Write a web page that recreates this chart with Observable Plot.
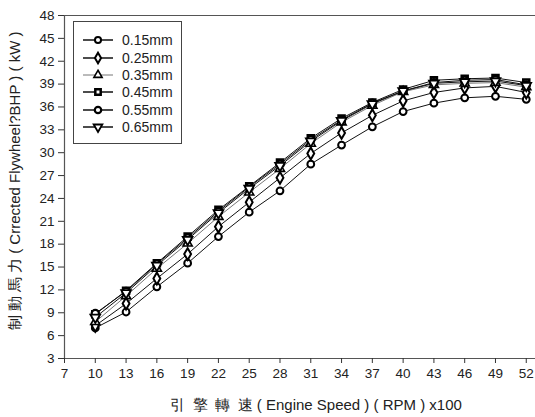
<!DOCTYPE html>
<html>
<head>
<meta charset="utf-8">
<script src="https://cdn.jsdelivr.net/npm/d3@7"></script>
<script src="https://cdn.jsdelivr.net/npm/@observablehq/plot@0.6"></script>
<style>
  body { margin: 0; background: white; }
  #wrap { position: relative; width: 535px; height: 417px; font-family: "Liberation Sans", Arial, sans-serif; }
  #legend { position: absolute; left: 73px; top: 21px; width: 109px; height: 123px; border: 1px solid #444; background: white; box-sizing: border-box; }
</style>
</head>
<body>
<div id="wrap"><div id="chart"></div><div id="legend"></div></div>
<script>
// ---- data ----
const rpm = [10, 13, 16, 19, 22, 25, 28, 31, 34, 37, 40, 43, 46, 49, 52];
const seriesNames = ["0.15mm", "0.25mm", "0.35mm", "0.45mm", "0.55mm", "0.65mm"];
const s015 = [7.0, 9.1, 12.4, 15.5, 19.0, 22.2, 25.0, 28.5, 31.0, 33.4, 35.4, 36.5, 37.2, 37.4, 37.0];
const s025 = [7.3, 10.2, 13.5, 16.7, 20.3, 23.5, 26.7, 29.9, 32.6, 34.9, 36.8, 37.9, 38.5, 38.7, 37.9];
const s035 = [7.8, 11.2, 14.8, 18.1, 21.6, 24.8, 27.9, 31.2, 34.0, 36.2, 38.0, 38.9, 39.1, 39.2, 38.6];
const s045 = [8.8, 11.9, 15.5, 19.0, 22.5, 25.6, 28.7, 31.9, 34.5, 36.6, 38.3, 39.5, 39.7, 39.8, 39.2];
const s055 = [8.9, 11.8, 15.4, 18.8, 22.3, 25.5, 28.5, 31.7, 34.3, 36.5, 38.1, 39.2, 39.5, 39.6, 38.9];
const s065 = [8.4, 11.6, 15.2, 18.6, 22.1, 25.3, 28.3, 31.5, 34.2, 36.4, 38.1, 39.1, 39.3, 39.4, 38.8];
const xTicks = [7, 10, 13, 16, 19, 22, 25, 28, 31, 34, 37, 40, 43, 46, 49, 52];
const yTicks = [3, 6, 9, 12, 15, 18, 21, 24, 27, 30, 33, 36, 39, 42, 45, 48];
const xLabel = "引\u2002擎\u2002轉\u2002速 ( Engine Speed ) ( RPM ) x100";
const yLabel = "制 動 馬 力 ( Crrected Flywheel?BHP ) ( kW )";

// ---- styles ----
const invTriangle = {
  draw(context, size) {
    const y = -Math.sqrt(size / (Math.sqrt(3) * 3));
    context.moveTo(0, -y * 2);
    context.lineTo(-Math.sqrt(3) * y, y);
    context.lineTo(Math.sqrt(3) * y, y);
    context.closePath();
  }
};
const styles = {
  "0.15mm": {symbol: "circle", r: 3.4, sw: 2, fill: "white", line: "#111"},
  "0.25mm": {symbol: "diamond", r: 3.6, sw: 2, fill: "white", line: "#111"},
  "0.35mm": {symbol: "triangle", r: 3.4, sw: 1.6, fill: "white", line: "#777"},
  "0.45mm": {symbol: "square", r: 3.4, sw: 2.5, fill: "white", line: "#111"},
  "0.55mm": {symbol: "circle", r: 3.6, sw: 2.2, fill: "white", line: "#111"},
  "0.65mm": {symbol: invTriangle, r: 3.6, sw: 1.8, fill: "white", line: "#111"}
};
const allSeries = [s015, s025, s035, s045, s055, s065];
const rows = [];
seriesNames.forEach((name, i) => rpm.forEach((x, j) => rows.push({series: name, x, y: allSeries[i][j]})));

const lineMarks = seriesNames.map(name => Plot.line(rows.filter(d => d.series === name), {x: "x", y: "y", stroke: styles[name].line, strokeWidth: 1}));
const dotMarks = seriesNames.map(name => Plot.dot(rows.filter(d => d.series === name), {
  x: "x", y: "y", symbol: styles[name].symbol, r: styles[name].r,
  stroke: "#000", strokeWidth: styles[name].sw, fill: styles[name].fill
}));

const chart = Plot.plot({
  width: 535,
  height: 417,
  marginLeft: 64,
  marginRight: 0,
  marginTop: 15,
  marginBottom: 59,
  x: {domain: [7, 52.9]},
  y: {domain: [3, 48]},
  style: {fontFamily: "'Liberation Sans', Arial, sans-serif", fontSize: "13.5px", color: "#222", background: "white"},
  marks: [
    Plot.ruleY([48], {stroke: "#555", strokeWidth: 1.2}),
    Plot.ruleX([7], {stroke: "#555", strokeWidth: 1.2}),
    Plot.ruleY([3], {stroke: "#555", strokeWidth: 1.2}),
    Plot.axisX({ticks: xTicks, tickSize: 5, tickPadding: 5, tickFormat: d => String(d), label: null, stroke: "#333"}),
    Plot.axisY({ticks: yTicks, tickSize: 6, tickPadding: 4, tickFormat: d => String(d), label: null, stroke: "#333"}),
    ...lineMarks,
    ...dotMarks,
    Plot.text([xLabel], {frameAnchor: "bottom", textAnchor: "middle", dy: 51, dx: 16, fontSize: 15, fill: "#222", text: d => d}),
    Plot.text([yLabel], {frameAnchor: "left", textAnchor: "middle", rotate: -90, dx: -49, dy: -6, fontSize: 15, fill: "#222", text: d => d})
  ]
});
document.getElementById("chart").appendChild(chart);

// ---- legend (inside plot area) ----
const leg = d3.select("#legend").append("svg").attr("width", 107).attr("height", 121);
const rowY = [18, 36, 53, 70, 88, 105];
seriesNames.forEach((name, i) => {
  const st = styles[name];
  const g = leg.append("g").attr("transform", `translate(0,${rowY[i]})`);
  g.append("line").attr("x1", 9).attr("x2", 39).attr("y1", 0).attr("y2", 0).attr("stroke", st.line).attr("stroke-width", name === "0.35mm" ? 1 : 1.5);
  const symType = typeof st.symbol === "string" ? {circle: d3.symbolCircle, diamond: d3.symbolDiamond, triangle: d3.symbolTriangle, square: d3.symbolSquare}[st.symbol] : st.symbol;
  g.append("path").attr("transform", "translate(24,0)")
    .attr("d", d3.symbol(symType, Math.PI * st.r * st.r * 0.8)())
    .attr("fill", st.fill).attr("stroke", "#000").attr("stroke-width", st.sw);
  g.append("text").attr("x", 48).attr("y", 5).attr("font-size", "14px").attr("fill", "#222")
    .attr("font-family", "'Liberation Sans', Arial, sans-serif").text(name);
});
</script>
</body>
</html>
